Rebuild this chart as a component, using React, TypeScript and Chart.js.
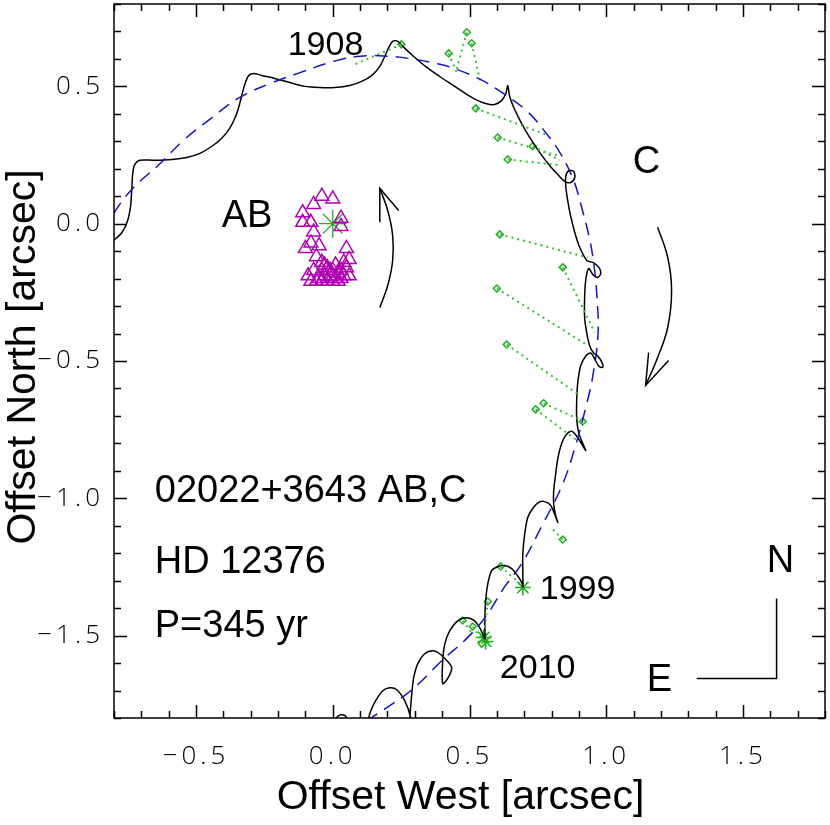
import React, { useEffect, useRef } from 'react';
import { Chart, registerables } from 'chart.js';
Chart.register(...registerables);

const X_MIN = -0.8, X_MAX = 1.8, Y_MIN = -1.8, Y_MAX = 0.8;
const xTickValues = [-0.5, 0.0, 0.5, 1.0, 1.5];
const yTickValues = [-1.5, -1.0, -0.5, 0.0, 0.5];

// Fitted orbit of C around AB (blue dashed)
const orbitC: number[][] = [
  [-0.84, -0.03], [-0.80, 0.04], [-0.73, 0.13], [-0.63, 0.22], [-0.55, 0.30], [-0.45, 0.38],
  [-0.34, 0.46], [-0.23, 0.51], [-0.12, 0.55], [0.00, 0.59], [0.10, 0.61], [0.20, 0.61],
  [0.29, 0.60], [0.37, 0.585], [0.43, 0.57], [0.53, 0.53], [0.60, 0.49], [0.71, 0.41],
  [0.78, 0.33], [0.83, 0.26], [0.88, 0.16], [0.91, 0.06], [0.94, -0.06], [0.955, -0.15],
  [0.965, -0.25], [0.97, -0.40], [0.95, -0.56], [0.93, -0.65], [0.89, -0.80], [0.84, -0.95],
  [0.77, -1.09], [0.69, -1.24], [0.63, -1.32], [0.56, -1.43], [0.49, -1.51], [0.40, -1.59],
  [0.32, -1.67], [0.26, -1.72], [0.14, -1.80], [0.08, -1.84],
];

// Path of C including the wobble (black solid)
const wobblePath: number[][] = [
  [-0.801, -0.061], [-0.771, -0.032], [-0.750, 0.012], [-0.739, 0.067], [-0.735, 0.129],
  [-0.731, 0.187], [-0.724, 0.216], [-0.706, 0.231], [-0.651, 0.231], [-0.589, 0.234],
  [-0.534, 0.241], [-0.486, 0.256], [-0.442, 0.282], [-0.406, 0.311], [-0.377, 0.347],
  [-0.355, 0.391], [-0.340, 0.438], [-0.329, 0.482], [-0.318, 0.518], [-0.307, 0.540],
  [-0.289, 0.547], [-0.260, 0.540], [-0.212, 0.529], [-0.157, 0.514], [-0.102, 0.500],
  [-0.048, 0.496], [0.007, 0.496], [0.062, 0.503], [0.106, 0.518], [0.143, 0.540],
  [0.172, 0.573], [0.190, 0.609], [0.205, 0.642], [0.219, 0.664], [0.238, 0.664],
  [0.260, 0.642], [0.296, 0.609], [0.344, 0.569], [0.391, 0.536], [0.435, 0.507],
  [0.479, 0.478], [0.523, 0.452], [0.559, 0.438], [0.592, 0.434], [0.618, 0.449],
  [0.633, 0.474], [0.640, 0.503], [0.647, 0.463], [0.662, 0.423], [0.687, 0.372],
  [0.720, 0.314], [0.757, 0.259], [0.793, 0.212], [0.823, 0.179], [0.848, 0.154],
  [0.870, 0.150], [0.885, 0.168], [0.881, 0.190], [0.863, 0.193], [0.852, 0.172],
  [0.852, 0.136], [0.859, 0.085], [0.870, 0.027], [0.885, -0.032], [0.903, -0.086],
  [0.929, -0.134], [0.951, -0.141], [0.973, -0.159], [0.980, -0.181], [0.969, -0.196],
  [0.951, -0.185], [0.936, -0.163], [0.925, -0.206], [0.921, -0.268], [0.921, -0.341],
  [0.929, -0.399], [0.940, -0.446], [0.954, -0.471], [0.969, -0.482], [0.984, -0.504],
  [0.987, -0.523], [0.973, -0.519], [0.958, -0.493], [0.943, -0.471], [0.925, -0.482],
  [0.906, -0.519], [0.896, -0.578], [0.892, -0.643], [0.892, -0.709], [0.899, -0.760],
  [0.914, -0.800], [0.925, -0.826],
  [0.892, -0.774], [0.874, -0.756], [0.855, -0.767], [0.837, -0.800], [0.823, -0.855],
  [0.815, -0.913], [0.808, -0.971], [0.808, -1.022], [0.815, -1.062], [0.823, -1.088],
  [0.797, -1.026], [0.775, -1.012], [0.753, -1.015], [0.731, -1.037], [0.713, -1.070],
  [0.702, -1.129], [0.695, -1.202], [0.695, -1.275], [0.695, -1.322],
  [0.691, -1.307], [0.676, -1.282], [0.654, -1.256], [0.629, -1.245], [0.603, -1.249],
  [0.581, -1.263], [0.567, -1.311], [0.559, -1.373], [0.556, -1.446], [0.556, -1.511],
  [0.548, -1.493], [0.537, -1.471], [0.519, -1.446], [0.490, -1.435], [0.457, -1.446],
  [0.428, -1.482], [0.410, -1.529], [0.402, -1.591], [0.402, -1.675],
  [0.420, -1.657], [0.435, -1.617],
  [0.417, -1.591], [0.391, -1.566], [0.366, -1.555], [0.336, -1.566], [0.311, -1.602],
  [0.296, -1.653], [0.289, -1.711], [0.282, -1.799], [0.278, -1.900],
  [0.293, -1.882], [0.285, -1.799], [0.263, -1.737], [0.234, -1.697], [0.208, -1.690],
  [0.183, -1.701], [0.157, -1.737], [0.139, -1.774], [0.132, -1.799], [0.128, -1.882],
  [0.069, -1.882], [0.048, -1.795], [0.029, -1.788], [0.011, -1.803], [-0.011, -1.882],
];

// Observations (green diamonds) and the model positions they are joined to
const obsX = [0.251, 0.490, 0.424, 0.508, 0.523, 0.603, 0.731, 0.640, 0.611, 0.841, 0.600, 0.636, 0.771, 0.742, 0.914, 0.841, 0.614, 0.567, 0.475, 0.512, 0.545];
const obsY = [0.653, 0.697, 0.620, 0.657, 0.420, 0.314, 0.282, 0.234, -0.039, -0.159, -0.236, -0.440, -0.654, -0.676, -0.720, -1.150, -1.248, -1.376, -1.445, -1.467, -1.529];
const fitX = [0.080, 0.450, 0.453, 0.541, 0.786, 0.819, 0.830, 0.837, 0.932, 0.958, 0.932, 0.903, 0.910, 0.892, 0.907, 0.801, 0.691, 0.556, 0.508, 0.548, 0.552];
const fitY = [0.580, 0.551, 0.551, 0.511, 0.322, 0.249, 0.231, 0.212, -0.123, -0.396, -0.443, -0.625, -0.716, -0.789, -0.731, -1.110, -1.317, -1.474, -1.488, -1.521, -1.511];

// Recent measurements (green asterisks) 1999, 2010
const recentX = [0.695, 0.552, 0.559];
const recentY = [-1.325, -1.507, -1.521];

// AB photocentre measurements (magenta triangles)
const abTriX = [-0.04, 0.00, -0.07, -0.11, -0.11, -0.08, 0.03, -0.07, -0.08, -0.10, -0.05, 0.05, 0.06, 0.04, -0.06, -0.04, -0.02, 0.00, 0.02, -0.01, -0.05, -0.09, 0.03, 0.04, 0.01, -0.04, -0.06,
  -0.03, 0.01, -0.01, 0.03, 0.05, -0.07, -0.03, 0.00, 0.02, -0.02, 0.06, -0.08, 0.00, -0.04, 0.03];
const abTriY = [0.10, 0.09, 0.07, 0.04, 0.005, 0.005, 0.02, -0.03, -0.07, -0.09, -0.08, -0.09, -0.13, -0.14, -0.12, -0.14, -0.16, -0.17, -0.18, -0.19, -0.20, -0.19, -0.20, -0.19, -0.20, -0.21, -0.21,
  -0.15, -0.15, -0.17, -0.17, -0.16, -0.17, -0.19, -0.21, -0.21, -0.21, -0.19, -0.21, -0.19, -0.17, -0.01];

// Motion arrows
const arrowAB: number[][] = [[0.172, -0.305], [0.201, -0.225], [0.219, -0.134], [0.219, -0.043], [0.201, 0.048], [0.172, 0.129]];
const arrowABHead: number[][] = [[0.172, 0.005], [0.172, 0.129], [0.241, 0.048]];
const arrowC: number[][] = [[1.188, -0.013], [1.225, -0.123], [1.239, -0.243], [1.225, -0.377], [1.188, -0.487], [1.144, -0.589]];
const arrowCHead: number[][] = [[1.155, -0.469], [1.144, -0.589], [1.228, -0.498]];
const compass: number[][] = [[1.331, -1.656], [1.623, -1.656], [1.623, -1.365]];

const annotations = [
  { text: '1908', x: -0.165, y: 0.613, size: 34 },
  { text: 'AB', x: -0.406, y: -0.013, size: 38 },
  { text: 'C', x: 1.097, y: 0.183, size: 38 },
  { text: '02022+3643 AB,C', x: -0.651, y: -1.015, size: 38 },
  { text: 'HD 12376', x: -0.651, y: -1.273, size: 38 },
  { text: 'P=345 yr', x: -0.651, y: -1.506, size: 38 },
  { text: '1999', x: 0.757, y: -1.365, size: 34 },
  { text: '2010', x: 0.611, y: -1.656, size: 34 },
  { text: 'N', x: 1.587, y: -1.270, size: 38 },
  { text: 'E', x: 1.148, y: -1.700, size: 38 },
];
const xTitle = 'Offset West [arcsec]';
const yTitle = 'Offset North [arcsec]';

const GREEN = '#1faf1f';
const GREEN_DOT = '#33c233';
const BLUE = '#1414c8';
const MAGENTA = '#b000b0';
const TEXT_FONT = '"Liberation Sans", Arial, Helvetica, sans-serif';

const pts = (arr: number[][]) => arr.map(([x, y]) => ({ x, y }));
const fmt = (v: number) => Number(v).toFixed(1).replace('-', '\u2212');

const overlayPlugin = {
  id: 'overlay',
  beforeDraw(chart: any) {
    chart.ctx.letterSpacing = '4px';
  },
  beforeDatasetsDraw(chart: any) {
    chart.ctx.letterSpacing = '0px';
  },
  afterDraw(chart: any) {
    const { ctx, chartArea: a, scales } = chart;
    const xs = scales.x, ys = scales.y;
    ctx.save();
    ctx.letterSpacing = '0px';
    ctx.strokeStyle = '#000';
    ctx.lineWidth = 1.5;
    ctx.beginPath();
    for (let i = Math.ceil(X_MIN * 10 - 1e-9); i <= Math.floor(X_MAX * 10 + 1e-9); i++) {
      const v = i / 10;
      const p = Math.round(xs.getPixelForValue(v)) + 0.5;
      const len = xTickValues.some((t) => Math.abs(t - v) < 1e-9) ? 13 : 7;
      ctx.moveTo(p, a.bottom); ctx.lineTo(p, a.bottom - len);
      ctx.moveTo(p, a.top); ctx.lineTo(p, a.top + len);
    }
    for (let i = Math.ceil(Y_MIN * 10 - 1e-9); i <= Math.floor(Y_MAX * 10 + 1e-9); i++) {
      const v = i / 10;
      const p = Math.round(ys.getPixelForValue(v)) + 0.5;
      const len = yTickValues.some((t) => Math.abs(t - v) < 1e-9) ? 13 : 7;
      ctx.moveTo(a.left, p); ctx.lineTo(a.left + len, p);
      ctx.moveTo(a.right, p); ctx.lineTo(a.right - len, p);
    }
    ctx.stroke();
    ctx.strokeRect(a.left, a.top, a.right - a.left, a.bottom - a.top);

    ctx.fillStyle = '#000';
    ctx.textAlign = 'left';
    ctx.textBaseline = 'alphabetic';
    for (const t of annotations) {
      ctx.font = `${t.size}px ${TEXT_FONT}`;
      ctx.fillText(t.text, xs.getPixelForValue(t.x), ys.getPixelForValue(t.y));
    }

    ctx.font = `41px ${TEXT_FONT}`;
    ctx.textAlign = 'center';
    ctx.fillText(xTitle, (a.left + a.right) / 2 - 9, 809);
    ctx.translate(35, (a.top + a.bottom) / 2 - 4);
    ctx.rotate(-Math.PI / 2);
    ctx.fillText(yTitle, 0, 0);
    ctx.restore();
  },
};

const noPad = (s: any) => { s.paddingLeft = 0; s.paddingRight = 0; s.paddingTop = 0; s.paddingBottom = 0; };

export default function App() {
  const ref = useRef<HTMLCanvasElement>(null);
  useEffect(() => {
    if (!ref.current) return;
    const dotted: any[] = [];
    obsX.forEach((x, i) => {
      dotted.push({ x, y: obsY[i] }, { x: fitX[i], y: fitY[i] }, { x: fitX[i], y: null });
    });
    const lineDs = (data: any[], color: string, extra: any = {}) => ({
      data, showLine: true, borderColor: color, borderWidth: 1.5, pointRadius: 0,
      tension: 0.3, fill: false, ...extra,
    });
    const chart = new Chart(ref.current, {
      type: 'scatter',
      data: {
        datasets: [
          {
            data: abTriX.map((x, i) => ({ x, y: abTriY[i] })),
            pointStyle: 'triangle', pointRadius: 8, borderColor: MAGENTA, borderWidth: 1.5,
            backgroundColor: 'rgba(0,0,0,0)', showLine: false,
          } as any,
          lineDs(pts(orbitC), BLUE, { borderDash: [13, 8], tension: 0.4 }),
          lineDs(dotted, GREEN_DOT, { borderDash: [2, 4], borderWidth: 2, tension: 0, spanGaps: false }),
          lineDs(pts(wobblePath), '#000', { tension: 0.3 }),
          lineDs(pts(arrowAB), '#000', { tension: 0.4 }),
          lineDs(pts(arrowABHead), '#000', { tension: 0 }),
          lineDs(pts(arrowC), '#000', { tension: 0.4 }),
          lineDs(pts(arrowCHead), '#000', { tension: 0 }),
          lineDs(pts(compass), '#000', { tension: 0 }),
          {
            data: obsX.map((x, i) => ({ x, y: obsY[i] })),
            pointStyle: 'rectRot', pointRadius: 3.5, borderColor: GREEN, borderWidth: 1.5,
            backgroundColor: '#fff', showLine: false,
          } as any,
          {
            data: recentX.map((x, i) => ({ x, y: recentY[i] })),
            pointStyle: 'star', pointRadius: 8, borderColor: GREEN, borderWidth: 1.5, showLine: false,
          } as any,
          {
            data: [{ x: 0, y: 0 }],
            pointStyle: 'star', pointRadius: 14, borderColor: GREEN, borderWidth: 1.3, showLine: false,
          } as any,
        ],
      },
      options: {
        responsive: false,
        animation: false,
        devicePixelRatio: 1,
        events: [],
        layout: { autoPadding: false, padding: { top: 4, right: 5, left: 0, bottom: 0 } },
        plugins: { legend: { display: false }, tooltip: { enabled: false } },
        scales: {
          x: {
            type: 'linear', min: X_MIN, max: X_MAX,
            grid: { display: false, drawTicks: false }, border: { display: false },
            afterBuildTicks: (s: any) => { s.ticks = xTickValues.map((value) => ({ value })); },
            afterFit: (s: any) => { s.height = 107; noPad(s); },
            ticks: {
              padding: 23, color: '#000', maxRotation: 0, autoSkip: false,
              font: { family: '"Open Sans", "Liberation Sans", sans-serif', size: 26, weight: '300' },
              callback: (v: any) => fmt(v),
            },
          },
          y: {
            type: 'linear', min: Y_MIN, max: Y_MAX,
            grid: { display: false, drawTicks: false }, border: { display: false },
            afterBuildTicks: (s: any) => { s.ticks = yTickValues.map((value) => ({ value })); },
            afterFit: (s: any) => { s.width = 114; noPad(s); },
            ticks: {
              padding: 10, color: '#000', autoSkip: false,
              font: { family: '"Open Sans", "Liberation Sans", sans-serif', size: 26, weight: '300' },
              callback: (v: any) => fmt(v),
            },
          },
        },
      } as any,
      plugins: [overlayPlugin],
    });
    return () => chart.destroy();
  }, []);
  return (
    <div style={{ position: 'fixed', left: 0, top: 0, width: 830, height: 825, background: '#fff' }}>
      <canvas ref={ref} width={830} height={825} style={{ display: 'block' }} />
    </div>
  );
}
